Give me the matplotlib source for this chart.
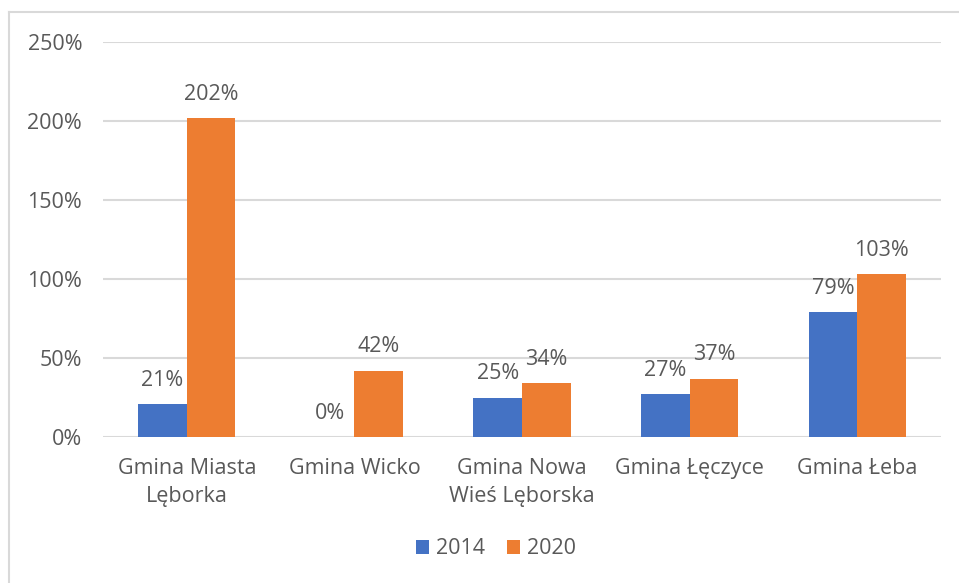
import numpy as np
import matplotlib
matplotlib.use("Agg")
import matplotlib.pyplot as plt
from matplotlib.lines import Line2D

plt.rcParams["font.family"] = ["Open Sans", "DejaVu Sans"]
TXT = "#595959"
GRID = "#D9D9D9"
BLUE, ORANGE = "#4472C4", "#ED7D31"
FS = 15.5

categories = ["Gmina Miasta\nLęborka", "Gmina Wicko", "Gmina Nowa\nWieś Lęborska",
              "Gmina Łęczyce", "Gmina Łeba"]
vals_2014 = [21, 0, 25, 27, 79]
vals_2020 = [202, 42, 34, 37, 103]
yticks = [0, 50, 100, 150, 200, 250]

fig = plt.figure(figsize=(9.59, 5.83), dpi=100)
ax = fig.add_axes([103/959, 1-437/583, 838/959, 395/583])

x = np.arange(len(categories))
w = 0.29
b1 = ax.bar(x - w/2, vals_2014, w, color=BLUE, label="2014", zorder=3)
b2 = ax.bar(x + w/2, vals_2020, w, color=ORANGE, label="2020", zorder=3)

for bars, vals in ((b1, vals_2014), (b2, vals_2020)):
    for r, v in zip(bars, vals):
        ax.annotate(f"{v}%", (r.get_x() + r.get_width()/2, v),
                    xytext=(0, 9.5), textcoords="offset points",
                    ha="center", va="bottom", fontsize=FS, color=TXT)

ax.set_xlim(-0.5, len(categories) - 0.5)
ax.set_ylim(0, 250)
ax.set_yticks(yticks)
ax.set_yticklabels([f"{t}%" for t in yticks])
ax.set_xticks(x)
ax.set_xticklabels(categories, linespacing=1.45)
ax.tick_params(axis="both", length=0, labelsize=FS, labelcolor=TXT)
ax.tick_params(axis="y", pad=15)
ax.tick_params(axis="x", pad=15)
ax.yaxis.grid(True, color=GRID, lw=1.5, zorder=0)
for s in ax.spines.values():
    s.set_visible(False)

fig.legend(handles=[b1, b2], loc="center", bbox_to_anchor=(496/959, 1-549/583),
           ncol=2, frameon=False, fontsize=FS, labelcolor=TXT,
           handlelength=0.6, handleheight=0.6, columnspacing=1.0, handletextpad=0.35)

# chart frame
fig.add_artist(Line2D([9/959, 1], [1-12/583, 1-12/583], color=GRID, lw=1.5,
                      transform=fig.transFigure))
fig.add_artist(Line2D([9/959, 9/959], [0, 1-12/583], color=GRID, lw=1.5,
                      transform=fig.transFigure))

fig.savefig("out.png", dpi=100)
